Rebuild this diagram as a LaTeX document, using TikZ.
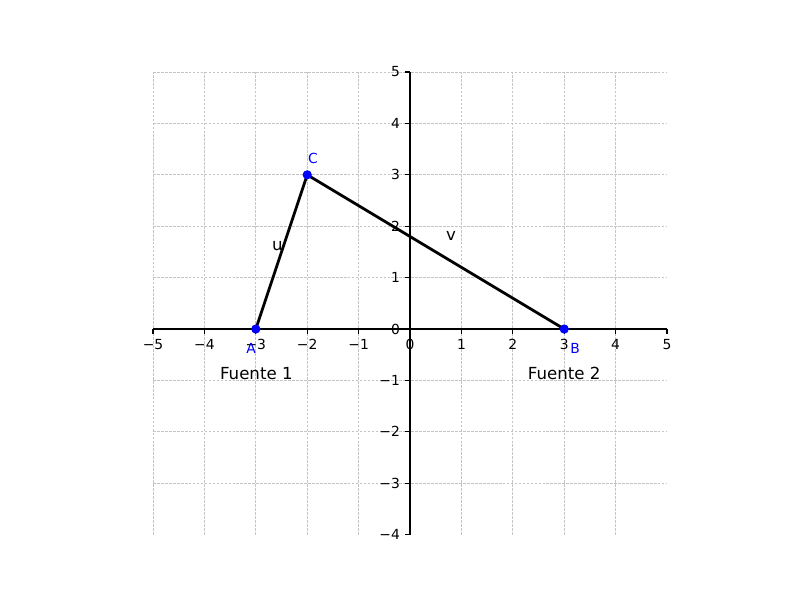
\documentclass[tikz,border=0pt]{standalone}
\usepackage{fontspec}
\setmainfont{DejaVu Sans}
\definecolor{gridgray}{HTML}{C4C4C4}
\definecolor{ptblue}{HTML}{0000FF}
\begin{document}
\begin{tikzpicture}[
  fuegrid/.style = {gridgray, line width=0.38pt, dash pattern=on 1.5pt off 0.7pt},
  fuespine/.style = {black, line width=0.61pt},
  fueside/.style = {black, line width=1.54pt},
  fuedot/.style = {fill=ptblue},
  fuetick/.style = {inner sep=0pt, font=\fontsize{7.68}{9}\selectfont},
  fuept/.style = {ptblue, inner sep=0pt, font=\fontsize{7.68}{9}\selectfont},
  fuelbl/.style = {inner sep=0pt, font=\fontsize{9.2}{11}\selectfont}
]
  \useasboundingbox (-7.977,-5.272) rectangle (7.587,6.401);
  % rejilla
  \foreach \x in {-5,...,4}
    \draw[fuegrid] (\x,-4) -- (\x,5);
  \foreach \y in {-3,...,5}
    \draw[fuegrid] (-5,\y) -- (5,\y);
  % ejes
  \draw[fuespine] (-5,0) -- (5,0);
  \draw[fuespine] (0,-4) -- (0,5);
  \foreach \x/\l in {-5/−5, -4/−4, -3/−3, -2/−2, -1/−1, 0/0, 1/1, 2/2, 3/3, 4/4, 5/5} {
    \draw[fuespine] (\x,0) -- (\x,-0.095);
    \node[fuetick, anchor=north] (xt\x) at (\x,-0.189) {\l};
  }
  \foreach \y/\l in {-4/−4, -3/−3, -2/−2, -1/−1, 0/0, 1/1, 2/2, 3/3, 4/4, 5/5} {
    \draw[fuespine] (0,\y) -- (-0.095,\y);
    \node[fuetick, anchor=east] (yt\y) at (-0.189,\y) {\l};
  }
  % triangulo
  \coordinate (A) at (-3,0);
  \coordinate (B) at (3,0);
  \coordinate (C) at (-2,3);
  \draw[fueside] (A) -- (C) -- (B);
  \foreach \p in {A,B,C}
    \fill[fuedot] (\p) circle (0.09);
  % etiquetas
  \node[fuept] (labA) at (-3.09,-0.375) {A};
  \node[fuept] (labB) at (3.21,-0.385) {B};
  \node[fuept] (labC) at (-1.89,3.31) {C};
  \node[fuelbl] (labu) at (-2.58,1.615) {u};
  \node[fuelbl] (labv) at (0.80,1.81) {v};
  \node[fuelbl] (f1) at (-2.99,-0.87) {Fuente 1};
  \node[fuelbl] (f2) at (3.0,-0.87) {Fuente 2};
\end{tikzpicture}
\end{document}
